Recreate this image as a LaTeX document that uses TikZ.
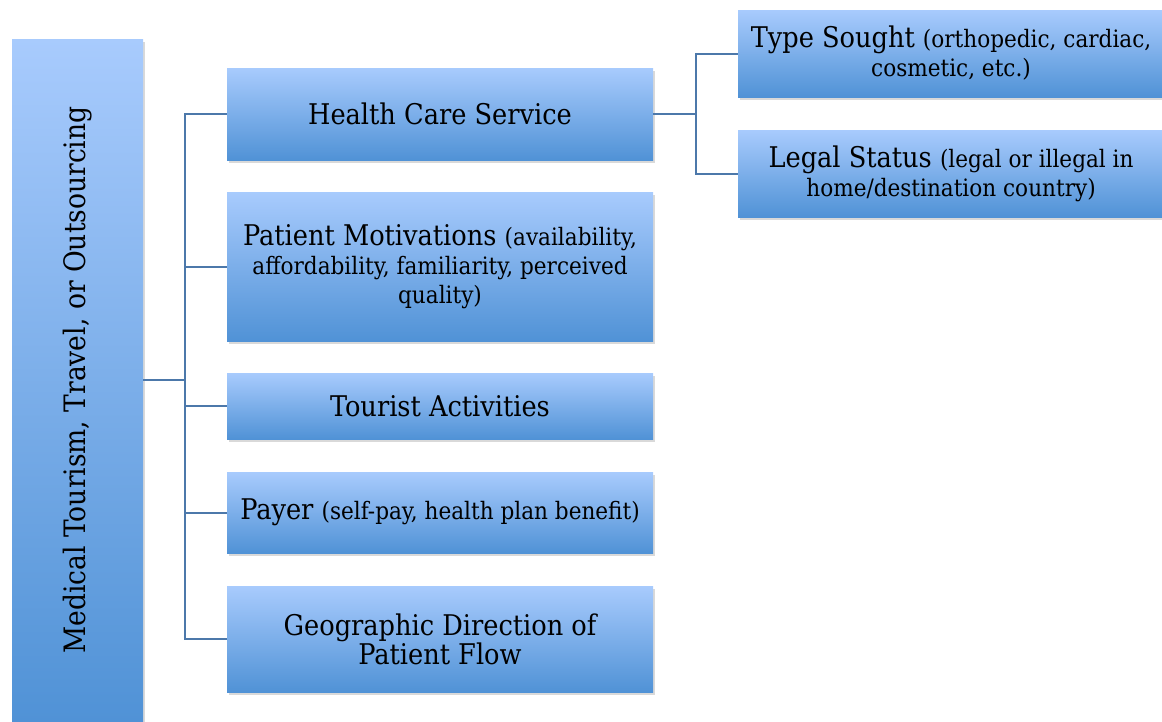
\documentclass[tikz,border=0pt]{standalone}
\usepackage{fontspec}
\setmainfont{DejaVu Serif Condensed}
\usetikzlibrary{shadows}
\definecolor{boxtop}{RGB}{168,203,253}
\definecolor{boxbot}{RGB}{80,146,214}
\definecolor{linkblue}{RGB}{76,120,170}
\newcommand{\mainsize}{\fontsize{28.5}{29}\selectfont}
\newcommand{\subsize}{\fontsize{24}{29}\selectfont}
\tikzset{
  catbox/.style={rectangle, top color=boxtop, bottom color=boxbot, align=center,
    inner sep=0pt, font=\mainsize,
    drop shadow={opacity=0.3, shadow xshift=2pt, shadow yshift=-3pt}},
  link/.style={draw=linkblue, line width=2pt},
}
\begin{document}
\begin{tikzpicture}[x=1pt, y=-1pt]
  \useasboundingbox (0,0) rectangle (1162,721);
  % root box
  \node[catbox, minimum width=131pt, minimum height=682pt] (med) at (77.5,380)
    {\rotatebox{90}{\fontsize{29.5}{30}\selectfont Medical Tourism, Travel, or Outsourcing}};

  % second level
  \node[catbox, minimum width=426pt, minimum height=92pt] (hcs) at (440,114) {Health Care Service};
  \node[catbox, minimum width=426pt, minimum height=149pt] (pm) at (440,266.5)
    {Patient Motivations {\subsize(availability,}\\{\subsize affordability, familiarity, perceived}\\{\subsize quality)}};
  \node[catbox, minimum width=426pt, minimum height=66pt] (ta) at (440,406) {Tourist Activities};
  \node[catbox, minimum width=426pt, minimum height=81pt] (pay) at (440,512.5)
    {Payer {\subsize(self-pay, health plan benefit)}};
  \node[catbox, minimum width=426pt, minimum height=106pt] (geo) at (440,639)
    {Geographic Direction of\\Patient Flow};

  % third level
  \node[catbox, minimum width=426pt, minimum height=87pt] (type) at (951,53.5)
    {Type Sought {\subsize(orthopedic, cardiac,}\\{\subsize cosmetic, etc.)}};
  \node[catbox, minimum width=426pt, minimum height=87pt] (legal) at (951,173.5)
    {Legal Status {\subsize(legal or illegal in}\\{\subsize home/destination country)}};

  % connectors
  \coordinate (trunk) at (185,380);
  \coordinate (fork) at (696,114);
  \draw[link] (med.east) -- (trunk);
  \foreach \n in {hcs,pm,ta,pay,geo}
    \draw[link] (trunk) |- (\n.west);
  \draw[link] (hcs.east) -- (fork);
  \draw[link] (fork) |- (type.west);
  \draw[link] (fork) |- (legal.west);
\end{tikzpicture}
\end{document}
